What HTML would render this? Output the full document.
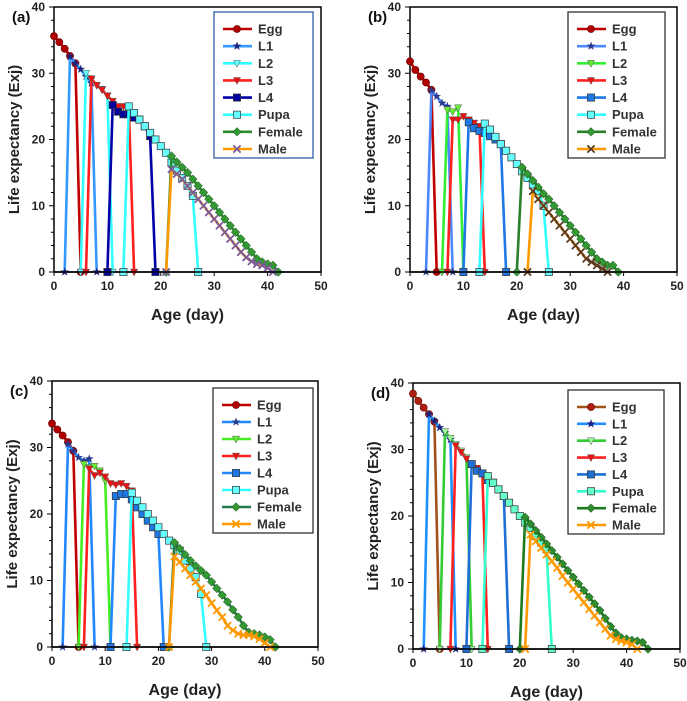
<!DOCTYPE html>
<html><head><meta charset="utf-8">
<style>
body{margin:0;background:#fff;width:687px;height:701px;overflow:hidden;font-family:"Liberation Sans",Arial,sans-serif}
svg{position:absolute;left:0;top:0}
text{font-family:"Liberation Sans",Arial,sans-serif;font-weight:bold}
</style></head>
<body>
<svg id="fig" width="687" height="701"></svg>
<script>
// Series order: Egg, L1, L2, L3, L4, Pupa, Female, Male
const seriesNames = ["Egg","L1","L2","L3","L4","Pupa","Female","Male"];
const xTicks = [0,10,20,30,40,50];
const yTicks = [0,10,20,30,40];
// start = age of zero point before first value (-1 = no leading zero); values follow from start+1
const aStarts = [-1,2,5,6,10,13,21,21];
const aEgg = [35.6,34.7,33.7,32.6,31.5];
const aL1 = [32.5,31.5,30.6,29.5,28.5];
const aL2 = [30,29,28.2,27.6,26.6];
const aL3 = [29.2,28.2,27.5,26.6,25.8,25,25,25];
const aL4 = [25.2,24.2,23.8,23.8,23.3,23,22,20.5];
const aPupa = [25,24,23,22,21,20,19,18,16.5,15.3,14.2,13,11.5];
const aFemale = [17.5,16.6,15.8,15,14,13,12,11,10,9,8,7,6,5,4,3,2,1.5,1.2,1];
const aMale = [15.5,14.8,14,13,12,11,10,9,8,7,6,5,4,3,2.2,1.6,1.2,1,0.6];
const bStarts = [-1,3,6,7,10,13,20,22];
const bEgg = [31.8,30.5,29.5,28.6,27.5];
const bL1 = [27.4,26.5,25.5,25];
const bL2 = [24.5,24.2,24.8];
const bL3 = [23,23,23.5,23,22.5,22];
const bL4 = [22.6,21.7,21.3,21,20.5,20,19.3];
const bPupa = [22.4,21.5,20.4,19.3,18.3,17.3,16.3,15.2,14.2,13.2,12.2,10];
const bFemale = [15.8,14.8,13.8,12.8,11.8,11,10,9,8,7,6,5,4,3,2,1.5,1,1];
const bMale = [12.2,11,10,9,8,7,6,5,4,3,2,1.5,1,0.5];
const cStarts = [-1,2,5,6,11,14,22,22];
const cEgg = [33.6,32.7,31.8,30.8,29.5];
const cL1 = [30.5,29.5,28.5,28,28.3];
const cL2 = [27.5,27,27.2,26.5,25];
const cL3 = [26.8,25.8,26.2,25.6,24.6,24.4,24.6,24.2,23.5];
const cL4 = [22.7,23,23,22.2,21,20,19,18,17];
const cPupa = [23.2,22,21,20,19,18,17,16,15.3,14.5,13,11.8,10.5,8];
const cFemale = [15.7,14.8,13.9,13,12.2,11.5,10.8,9.8,8.8,7.8,6.8,5.6,4.5,3.2,2.2,2,1.8,1.5,1.1];
const cMale = [13.6,12.8,11.8,10.8,9.8,8.8,7.8,6.6,5.5,4.5,3.2,2.5,2,1.8,1.8,1.6,1.2,0.6];
const dStarts = [-1,2,5,7,10,13,20,21];
const dEgg = [38.4,37.3,36.3,35.3,34.2];
const dL1 = [35.3,34.3,33.3,32.5,31.5];
const dL2 = [32.7,31.7,30.8,29.8,28.8];
const dL3 = [30.6,29.6,28.6,27.8,27.2,26.2];
const dL4 = [27.8,26.8,26.4,25.4,25,24,23];
const dPupa = [26,25,24,23,22,21,20,19,18.2,17,16,15];
const dFemale = [19.8,18.8,17.8,16.8,15.8,14.8,13.8,12.8,11.8,10.8,9.8,8.8,7.8,6.8,5.8,4.6,3.4,2.4,1.7,1.5,1.3,1.2,1];
const dMale = [17.2,16.2,15.2,14.2,13.2,12.2,11,10,9,8,7,6,5,4,3,2,1.5,1.2,1,0.7];

const NS="http://www.w3.org/2000/svg";
const svg=document.getElementById('fig');
function mk(tag,attrs,parent){const e=document.createElementNS(NS,tag);for(const k in attrs)e.setAttribute(k,attrs[k]);(parent||svg).appendChild(e);return e;}

const shapes=["circle","star","tri","tri","square","square","diamond","x"];
const panels=[
 {id:"a",x0:54,x1:321,y0:272,y1:7,label:"(a)",starts:aStarts,data:[aEgg,aL1,aL2,aL3,aL4,aPupa,aFemale,aMale],
  lc:["#c00000","#3399ff","#33ffff","#ff2020","#0000a8","#33ffff","#2e8b2e","#ff9900"],
  mc:["#b00000","#1a237e","#66ffff","#ee1111","#0000a0","#66ffff","#339933","#7b5a9c"],
  leg:{x:214,y:12,w:99,h:146}},
 {id:"b",x0:410,x1:677,y0:272,y1:7,label:"(b)",starts:bStarts,data:[bEgg,bL1,bL2,bL3,bL4,bPupa,bFemale,bMale],
  lc:["#c00000","#4d88ff","#33ee33","#ff2020","#1e78e6","#33ffff","#2a7f2a","#ff9900"],
  mc:["#b00000","#2a3a8a","#66ee33","#ee1111","#1e78e6","#66ffff","#339933","#5a3a20"],
  leg:{x:568,y:12,w:97,h:146}},
 {id:"c",x0:52,x1:318,y0:647,y1:381,label:"(c)",starts:cStarts,data:[cEgg,cL1,cL2,cL3,cL4,cPupa,cFemale,cMale],
  lc:["#c00000","#2288ff","#44ee22","#ff2020","#2288ff","#33ffff","#237a4a","#ff9900"],
  mc:["#b00000","#2a3a8a","#66ee33","#ee1111","#1e78e6","#66ffff","#339933","#ff9900"],
  leg:{x:213,y:388,w:100,h:145}},
 {id:"d",x0:413,x1:680,y0:649,y1:383,label:"(d)",starts:dStarts,data:[dEgg,dL1,dL2,dL3,dL4,dPupa,dFemale,dMale],
  lc:["#a0521a","#1e90ff","#33cc33","#ff2020","#1e6fd6","#33ffcc","#1e7a1e","#ff9900"],
  mc:["#b02010","#1a237e","#99ff99","#ee1111","#1e6fd6","#66ffcc","#2e8b2e","#ff9900"],
  leg:{x:568,y:390,w:96,h:144}}
];

function marker(g,shape,x,y,col,s){
  s=s||3.6;
  if(shape==="circle") return mk('circle',{cx:x,cy:y,r:s,fill:col,stroke:"#600",'stroke-width':0.6},g);
  if(shape==="square") return mk('rect',{x:x-s,y:y-s,width:2*s,height:2*s,fill:col,stroke:"#333",'stroke-width':0.7},g);
  if(shape==="tri") return mk('polygon',{points:`${x-s},${y-s*0.8} ${x+s},${y-s*0.8} ${x},${y+s*1.1}`,fill:col,stroke:"#555",'stroke-width':0.5},g);
  if(shape==="diamond") return mk('polygon',{points:`${x},${y-s*1.2} ${x+s*1.2},${y} ${x},${y+s*1.2} ${x-s*1.2},${y}`,fill:col,stroke:"#1a4a1a",'stroke-width':0.5},g);
  if(shape==="x") return mk('path',{d:`M${x-s} ${y-s}L${x+s} ${y+s}M${x-s} ${y+s}L${x+s} ${y-s}`,stroke:col,'stroke-width':1.8,fill:"none"},g);
  if(shape==="star"){let p=[];for(let i=0;i<10;i++){const r=i%2?s*0.45:s*1.15;const a=-Math.PI/2+i*Math.PI/5;p.push((x+r*Math.cos(a)).toFixed(1)+","+(y+r*Math.sin(a)).toFixed(1));}
    return mk('polygon',{points:p.join(" "),fill:col,stroke:col,'stroke-width':0.4},g);}
}

panels.forEach(P=>{
  const g=mk('g',{});
  
  
  const sx=v=>P.x0+(P.x1-P.x0)*v/50;
  const sy=v=>P.y0-(P.y0-P.y1)*v/40;
  const fr=mk('rect',{x:P.x0,y:P.y1,width:P.x1-P.x0,height:P.y0-P.y1,fill:"none",stroke:"#000",'stroke-width':1.5},g);
  
  
  for(let v=0;v<=40;v+=2){mk('line',{x1:P.x0-(v%10?3:5),x2:P.x0,y1:sy(v),y2:sy(v),stroke:"#000",'stroke-width':1},g);}
  yTicks.forEach(v=>{const t=mk('text',{x:P.x0-9,y:sy(v)+4,'text-anchor':'end','font-size':12,fill:"#222"},g);t.textContent=v;
    
    });
  xTicks.forEach(v=>{mk('line',{x1:sx(v),x2:sx(v),y1:P.y0,y2:P.y0+4,stroke:"#000",'stroke-width':1},g);
    const t=mk('text',{x:sx(v),y:P.y0+18,'text-anchor':'middle','font-size':12,fill:"#222"},g);t.textContent=v;
    
    });
  const yt=mk('text',{x:0,y:0,'text-anchor':'middle','font-size':15,fill:"#222",transform:`translate(${P.x0-35},${(P.y0+P.y1)/2}) rotate(-90)`},g);
  yt.textContent="Life expectancy (Exj)";
  
  
  const xt=mk('text',{x:(P.x0+P.x1)/2,y:P.y0+48,'text-anchor':'middle','font-size':16,fill:"#222"},g);
  xt.textContent="Age (day)";
  
  
  const pl=mk('text',{x:P.x0-42,y:P.y1+15,'font-size':15,fill:"#111"},g);
  pl.textContent=P.label;
  
  
  P.data.forEach((vals,i)=>{
    const st=P.starts[i];const pts=[];
    if(st>=0)pts.push([st,0]);
    vals.forEach((v,k)=>pts.push([st+1+k,v]));
    pts.push([st+1+vals.length,0]);
    const sg=mk('g',{},g);
    
    
    mk('polyline',{points:pts.map(p=>sx(p[0]).toFixed(1)+","+sy(p[1]).toFixed(1)).join(" "),fill:"none",stroke:P.lc[i],'stroke-width':2.6,'stroke-linejoin':'round'},sg);
    pts.forEach(p=>marker(sg,shapes[i],sx(p[0]),sy(p[1]),P.mc[i]));
  });
  mk('line',{x1:P.x0,x2:P.x1,y1:P.y0,y2:P.y0,stroke:"#000",'stroke-width':1.5},g);
  const L=P.leg;
  const lg=mk('g',{},g);
  
  
  mk('rect',{x:L.x,y:L.y,width:L.w,height:L.h,fill:"#fff",stroke:P.id==="a"?"#2e5fa8":"#333",'stroke-width':1.3},lg);
  const step=(L.h-26)/7;
  seriesNames.forEach((n,i)=>{
    const yy=L.y+17+i*step;
    const e=mk('g',{},lg);
    
    
    mk('line',{x1:L.x+9,x2:L.x+38,y1:yy,y2:yy,stroke:P.lc[i],'stroke-width':2.6},e);
    marker(e,shapes[i],L.x+23,yy,P.mc[i]);
    const t=mk('text',{x:L.x+44,y:yy+4.5,'font-size':13,fill:"#333"},e);t.textContent=n;
  });
});
</script>
</body></html>
